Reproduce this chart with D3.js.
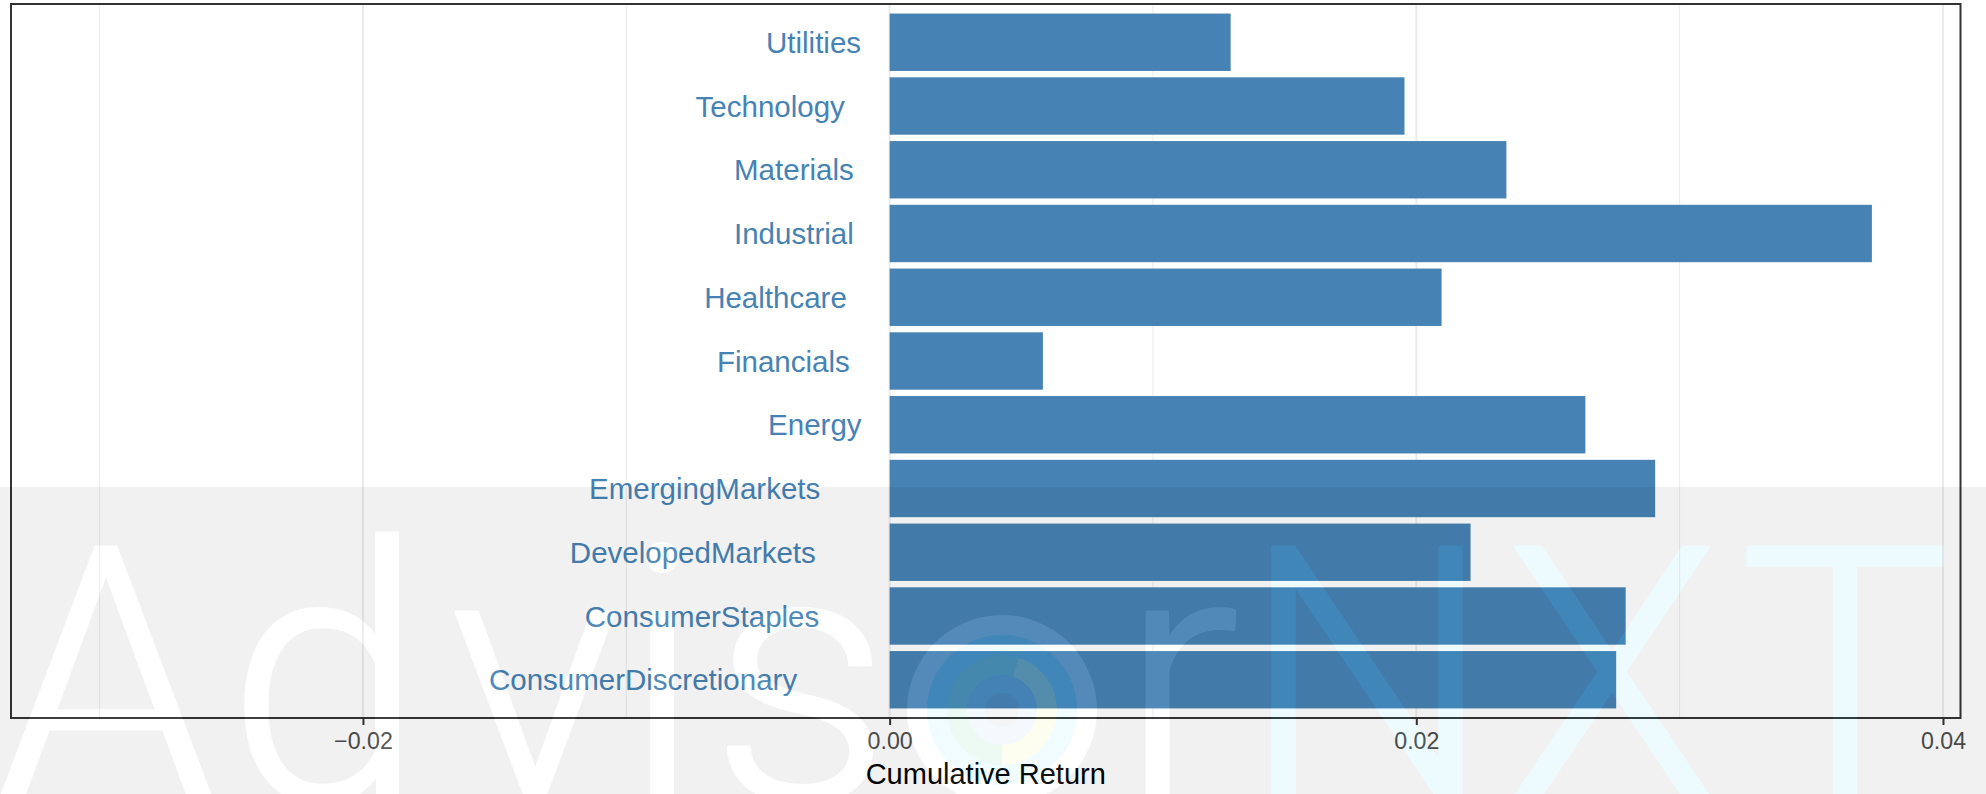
<!DOCTYPE html>
<html>
<head>
<meta charset="utf-8">
<script src="https://cdn.jsdelivr.net/npm/d3@7"></script>
<style>
  body { margin: 0; background: #fff; }
  svg { display: block; font-family: "Liberation Sans", Arial, sans-serif; }
</style>
</head>
<body>
<svg id="chart" width="1986" height="794"></svg>
<script>
// data
const sectors = ["ConsumerDiscretionary", "ConsumerStaples", "DevelopedMarkets", "EmergingMarkets",
                 "Energy", "Financials", "Healthcare", "Industrial", "Materials", "Technology", "Utilities"];
const cumReturn = [0.02759, 0.02795, 0.02206, 0.02907, 0.02642, 0.00582, 0.02096, 0.03730, 0.02342, 0.01955, 0.01295];
const xBreaks = [-0.02, 0, 0.02, 0.04];
const xMinorBreaks = [-0.03, -0.01, 0.01, 0.03];
const xTickLabels = ["\u22120.02", "0.00", "0.02", "0.04"];
const valueLow = -0.03; // lower end of the value range used for the axis

function MakeChart() {
    const svg = d3.select("#chart");
    const width = +svg.attr("width");
    const height = +svg.attr("height");
    svg.selectAll("*").remove();

    const margin = {left: 11, right: 25.5, top: 4, bottom: 76};
    const plotW = width - margin.left - margin.right;
    const plotH = height - margin.top - margin.bottom;

    const g = svg.append("g").attr("transform", `translate(${margin.left},${margin.top})`);

    const data = sectors.map((s, i) => ({sector: s, value: cumReturn[i]}));

    // ggplot-like 5% expansion
    const hi = d3.max(cumReturn);
    const span = hi - valueLow;
    const xScale = d3.scaleLinear()
        .domain([valueLow - 0.05 * span, hi + 0.05 * span])
        .range([0, plotW]);
    const yScale = d3.scaleBand()
        .domain(sectors.slice().reverse())
        .range([0, plotH])
        .paddingInner(0.1)
        .paddingOuter(0.15);

    // grid
    g.selectAll(".minor").data(xMinorBreaks).join("line")
        .attr("x1", d => xScale(d)).attr("x2", d => xScale(d))
        .attr("y1", 0).attr("y2", plotH)
        .attr("stroke", "#ebebeb").attr("stroke-width", 1);
    g.selectAll(".major").data(xBreaks).join("line")
        .attr("x1", d => xScale(d)).attr("x2", d => xScale(d))
        .attr("y1", 0).attr("y2", plotH)
        .attr("stroke", "#ebebeb").attr("stroke-width", 2);

    // bars
    g.selectAll(".bar").data(data).join("rect")
        .attr("x", d => xScale(Math.min(0, d.value)))
        .attr("y", d => yScale(d.sector))
        .attr("width", d => Math.abs(xScale(d.value) - xScale(0)))
        .attr("height", yScale.bandwidth())
        .attr("fill", "#4682B4");

    // sector labels (hjust = 1.3 at x = 0)
    const labels = g.selectAll(".lab").data(data).join("text")
        .attr("x", xScale(0))
        .attr("y", d => yScale(d.sector) + yScale.bandwidth() / 2)
        .attr("dy", "0.36em")
        .attr("text-anchor", "end")
        .attr("font-size", 29.5)
        .attr("fill", "#4682B4")
        .text(d => d.sector);
    labels.each(function() {
        const w = this.getComputedTextLength();
        d3.select(this).attr("x", xScale(0) - 0.3 * w);
    });

    // panel border
    g.append("rect")
        .attr("x", 0).attr("y", 0)
        .attr("width", plotW).attr("height", plotH)
        .attr("fill", "none")
        .attr("stroke", "#333333")
        .attr("stroke-width", 2);

    // x axis
    const xAxis = d3.axisBottom(xScale)
        .tickValues(xBreaks)
        .tickFormat((d, i) => xTickLabels[i])
        .tickSize(7)
        .tickPadding(6);
    const ax = g.append("g").attr("transform", `translate(0,${plotH})`).call(xAxis);
    ax.select(".domain").remove();
    ax.selectAll(".tick line").attr("stroke", "#333333").attr("stroke-width", 2);
    ax.selectAll(".tick text")
        .attr("font-family", "Liberation Sans, Arial, sans-serif")
        .attr("font-size", 23.2)
        .attr("fill", "#4d4d4d")
        .attr("dy", null)
        .attr("y", 31);

    g.append("text")
        .attr("x", plotW / 2)
        .attr("y", plotH + 66)
        .attr("text-anchor", "middle")
        .attr("font-size", 29)
        .attr("fill", "#000")
        .text("Cumulative Return");

    // watermark
    const wm = svg.append("g");
    const bandTop = 487;
    const baseY = 800;
    const wmFont = 356;
    const wmStroke = 3;
    const letters = [
        {ch: "A", x: 106, c: "w"}, {ch: "d", x: 326, c: "w"}, {ch: "v", x: 535, c: "w"},
        {ch: "i", x: 662, c: "w"}, {ch: "s", x: 801, c: "w"}, {ch: "r", x: 1180, c: "w"},
        {ch: "N", x: 1367, c: "c"}, {ch: "X", x: 1612, c: "c"}, {ch: "T", x: 1845, c: "c"}
    ];
    const logo = {x: 1002, y: 710, r: 95};

    function drawLetters(sel, list, color) {
        sel.selectAll("text").data(list).join("text")
            .attr("x", d => d.x)
            .attr("y", baseY)
            .attr("text-anchor", "middle")
            .attr("font-family", "Roboto, 'Open Sans', sans-serif")
            .attr("font-weight", 300)
            .attr("font-size", wmFont)
            .attr("fill", color)
            .attr("stroke", color)
            .attr("stroke-width", wmStroke)
            .attr("stroke-linejoin", "round")
            .text(d => d.ch);
    }

    const defs = svg.append("defs");
    const mask = defs.append("mask").attr("id", "wmMask")
        .attr("maskUnits", "userSpaceOnUse")
        .attr("x", 0).attr("y", 0).attr("width", width).attr("height", height);
    mask.append("rect").attr("x", 0).attr("y", 0).attr("width", width).attr("height", height).attr("fill", "#fff");
    drawLetters(mask.append("g"), letters, "#000");
    mask.append("circle").attr("cx", logo.x).attr("cy", logo.y).attr("r", logo.r).attr("fill", "#000");

    wm.append("rect")
        .attr("x", 0).attr("y", bandTop)
        .attr("width", width).attr("height", height - bandTop)
        .attr("fill", "#000").attr("fill-opacity", 0.055)
        .attr("mask", "url(#wmMask)");

    // group opacity keeps fill + stroke from stacking
    drawLetters(wm.append("g").attr("opacity", 0.06), letters.filter(d => d.c === "w"), "#fff");
    drawLetters(wm.append("g").attr("opacity", 0.065), letters.filter(d => d.c === "c"), "rgb(8,200,255)");

    // logo rings in place of the "o"
    const arc = d3.arc();
    const rings = [
        {r0: 75, r1: 95, a0: 0, a1: 2 * Math.PI, fill: "rgba(255,255,255,0.07)"},
        {r0: 55, r1: 75, a0: 0, a1: 2 * Math.PI, fill: "rgba(8,200,255,0.06)"},
        {r0: 35, r1: 55, a0: Math.PI * 1.0, a1: Math.PI * 2.1, fill: "rgba(60,200,120,0.09)"},
        {r0: 35, r1: 55, a0: Math.PI * 0.1, a1: Math.PI * 1.0, fill: "rgba(230,240,90,0.09)"},
        {r0: 17, r1: 35, a0: 0, a1: 2 * Math.PI, fill: "rgba(40,140,210,0.05)"},
        {r0: 0, r1: 17, a0: 0, a1: 2 * Math.PI, fill: "rgba(0,0,0,0.04)"}
    ];
    wm.selectAll(".ring").data(rings).join("path")
        .attr("transform", `translate(${logo.x},${logo.y})`)
        .attr("d", d => arc({innerRadius: d.r0, outerRadius: d.r1, startAngle: d.a0, endAngle: d.a1}))
        .attr("fill", d => d.fill);
}

MakeChart();
</script>
</body>
</html>
